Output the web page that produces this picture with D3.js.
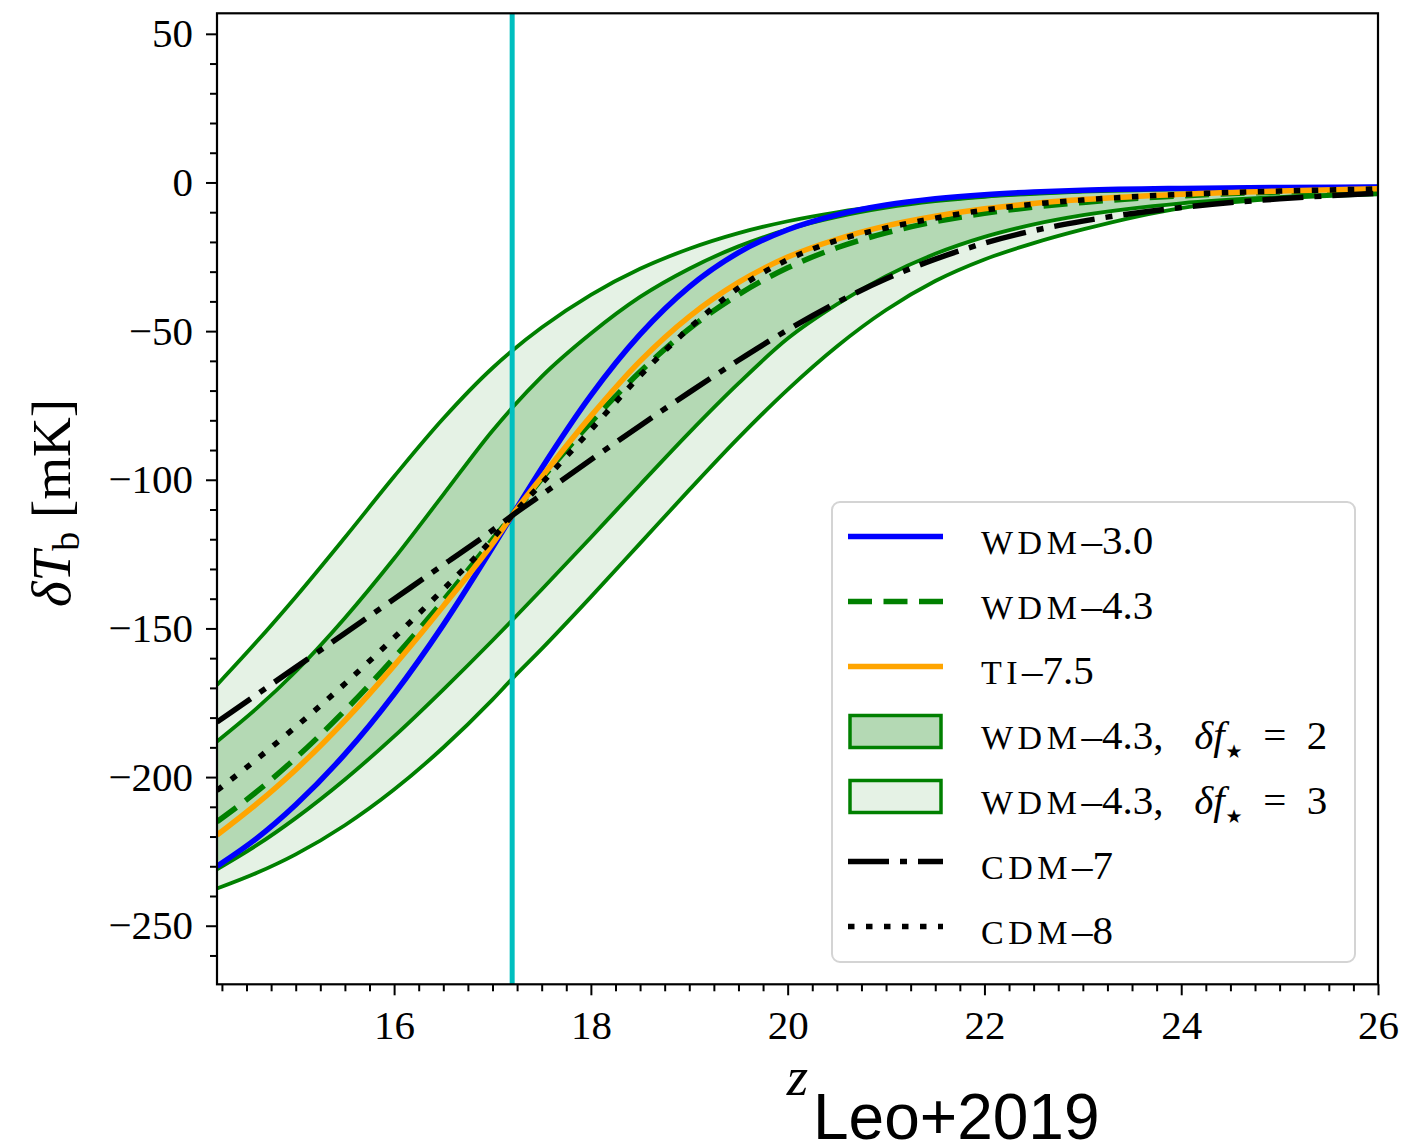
<!DOCTYPE html>
<html lang="en">
  <head>
    <meta charset="utf-8">
    <title>dTb vs z</title>
    <script src="https://cdn.jsdelivr.net/npm/d3@7"></script>
    <style>
      body { margin: 0; background: #fff; }
    </style>
  </head>

  <body>
    <svg id="chart" width="1427" height="1145" font-family="Liberation Serif, DejaVu Serif, serif"></svg>
    <script type="text/javascript">

      // redshift grid shared by every curve
      var zGrid = [14.2, 14.6, 15, 15.5, 16, 16.5, 17, 17.2, 17.5, 18, 18.5, 19, 19.5, 20, 20.5, 21, 21.5, 22, 22.5, 23, 24, 25, 26];

      // series values (mK)
      var wdm30 = [-230, -220.7, -209.3, -192.3, -172.1, -148.8, -122.8, -112, -96.1, -71.6, -51.1, -35.1, -23.6, -15.9, -10.9, -7.6, -5.5, -4.1, -3.2, -2.6, -2.0, -1.7, -1.5];
      var wdm43 = [-215, -205, -193.6, -177.6, -159.9, -140.6, -120.1, -112, -99.7, -80.7, -63.7, -49.2, -37.7, -28.7, -21.95, -16.95, -13.2, -10.4, -8.3, -6.7, -4.5, -3.2, -2.5];
      var ti75  = [-219.5, -209.1, -197.5, -181, -162.5, -142.5, -121.5, -112, -99.1, -78.6, -60.1, -45.1, -33.6, -25.1, -19.1, -14.6, -11.35, -8.85, -7.05, -5.75, -3.95, -2.85, -2.15];
      var cdm7  = [-181.5, -172.3, -163.1, -151.6, -140.1, -128.6, -117, -112, -105, -93.3, -81.8, -70.6, -59.8, -49.6, -40.4, -32.4, -25.8, -20.4, -16.2, -13, -8.4, -5.5, -3.6];
      var cdm8  = [-204.5, -194.1, -183.1, -168.6, -153.1, -136.85, -119.85, -112, -101.2, -83.2, -65, -49, -35.5, -26, -19.5, -15.3, -12, -9.3, -7.3, -5.9, -4, -2.9, -2.2];

      // WDM-4.3 bands: delta f_star = 2 and 3
      var band2Upper = [-188, -177, -164.5, -146.5, -126.5, -105, -83.5, -75.8, -65.3, -50.8, -38.5, -29, -21.5, -15.8, -11.6, -8.5, -6.3, -4.8, -3.8, -3.1, -2.3, -1.9, -1.7];
      var band2Lower = [-231, -223, -213.8, -200.8, -186.3, -170.55, -154.05, -147.25, -136.9, -119.4, -101.65, -84.15, -67.6, -52.5, -41, -31.5, -24, -18.3, -14.1, -11, -7, -4.9, -3.6];
      var band3Upper = [-169, -154.6, -139.4, -119.4, -98.9, -79.4, -62.4, -56.6, -48.8, -37.8, -29.05, -22.3, -17.05, -13.05, -10.05, -7.75, -6, -4.65, -3.65, -2.9, -2.0, -1.6, -1.4];
      var band3Lower = [-237.5, -232.3, -226, -216.2, -204.2, -190.05, -173.95, -166.95, -156.9, -139.4, -121.4, -103.4, -85.9, -69.65, -55.15, -42.9, -33.15, -25.9, -20.4, -15.8, -8.6, -5.4, -4];

      var zMark = 17.2;

      var xMajor = [16, 18, 20, 22, 24, 26];
      var yMajor = [50, 0, -50, -100, -150, -200, -250];

      var legendLabels = [
        ["WDM", "\u20133.0"],
        ["WDM", "\u20134.3"],
        ["TI", "\u20137.5"],
        ["WDM", "\u20134.3,\u2002 ", "2"],
        ["WDM", "\u20134.3,\u2002 ", "3"],
        ["CDM", "\u20137"],
        ["CDM", "\u20138"]
      ];

      var svg = d3.select("#chart");

      var pLeft = 217, pRight = 1378, pTop = 13.3, pBottom = 984.3;

      var x = d3.scaleLinear().domain([14.2, 26]).range([pLeft, pRight]);
      var y = d3.scaleLinear().domain([-269.7, 56.9]).range([pBottom, pTop]);

      svg.append("defs").append("clipPath").attr("id", "plotclip")
        .append("rect")
          .attr("x", pLeft).attr("y", pTop)
          .attr("width", pRight - pLeft).attr("height", pBottom - pTop);

      var plot = svg.append("g").attr("clip-path", "url(#plotclip)");

      function pts(vals) {
        return zGrid.map(function(z, i){ return [z, vals[i]]; });
      }

      var line = d3.line()
        .x(function(d){ return x(d[0]); })
        .y(function(d){ return y(d[1]); })
        .curve(d3.curveMonotoneX);

      var area = d3.area()
        .x(function(d, i){ return x(zGrid[i]); })
        .y0(function(d){ return y(d[0]); })
        .y1(function(d){ return y(d[1]); })
        .curve(d3.curveMonotoneX);

      function bandData(lo, hi) {
        return lo.map(function(v, i){ return [v, hi[i]]; });
      }

      // bands
      plot.append("path").datum(bandData(band3Lower, band3Upper))
        .attr("d", area).attr("fill", "#e5f2e5");
      plot.append("path").datum(bandData(band2Lower, band2Upper))
        .attr("d", area).attr("fill", "#b4d9b4");

      [band3Upper, band3Lower, band2Upper, band2Lower].forEach(function(b){
        plot.append("path").datum(pts(b))
          .attr("d", line).attr("fill", "none")
          .attr("stroke", "green").attr("stroke-width", 3.8);
      });

      // vertical marker
      plot.append("line")
        .attr("x1", x(zMark)).attr("x2", x(zMark))
        .attr("y1", pTop).attr("y2", pBottom)
        .attr("stroke", "#00bfbf").attr("stroke-width", 5);

      var series = [
        { vals: wdm30, color: "blue",   dash: null },
        { vals: wdm43, color: "green",  dash: "24,11.5" },
        { vals: ti75,  color: "orange", dash: null },
        { vals: cdm7,  color: "black",  dash: "41,11,7,11" },
        { vals: cdm8,  color: "black",  dash: "6.5,11.5" }
      ];

      series.forEach(function(s){
        plot.append("path").datum(pts(s.vals))
          .attr("d", line).attr("fill", "none")
          .attr("stroke", s.color).attr("stroke-width", 5.5)
          .attr("stroke-dasharray", s.dash);
      });

      // axes
      var xMinor = d3.range(14.25, 26.001, 0.25).filter(function(v){ return Math.abs(v / 2 - Math.round(v / 2)) > 1e-6; });
      var yMinor = d3.range(-260, 51, 10).filter(function(v){ return v % 50 !== 0; });

      var gx = svg.append("g").attr("transform", "translate(0," + pBottom + ")");
      gx.call(d3.axisBottom(x).tickValues(xMinor).tickSize(7).tickSizeOuter(0).tickFormat(""));
      var gxMaj = svg.append("g").attr("transform", "translate(0," + pBottom + ")");
      gxMaj.call(d3.axisBottom(x).tickValues(xMajor).tickSize(11).tickSizeOuter(0).tickPadding(15).tickFormat(d3.format("d")));

      var gy = svg.append("g").attr("transform", "translate(" + pLeft + ",0)");
      gy.call(d3.axisLeft(y).tickValues(yMinor).tickSize(7).tickSizeOuter(0).tickFormat(""));
      var gyMaj = svg.append("g").attr("transform", "translate(" + pLeft + ",0)");
      gyMaj.call(d3.axisLeft(y).tickValues(yMajor).tickSize(11).tickSizeOuter(0).tickPadding(13).tickFormat(d3.format("d")));

      svg.selectAll(".domain").remove();
      svg.selectAll(".tick line").attr("stroke", "black").attr("stroke-width", 2);
      svg.selectAll(".tick text")
        .style("font-family", "Liberation Serif, DejaVu Serif, serif")
        .style("font-size", "41px").attr("fill", "black");

      // frame
      svg.append("rect")
        .attr("x", pLeft).attr("y", pTop)
        .attr("width", pRight - pLeft).attr("height", pBottom - pTop)
        .attr("fill", "none").attr("stroke", "black").attr("stroke-width", 2.2);

      // axis labels
      var ylab = svg.append("text")
        .attr("transform", "translate(70,503) rotate(-90)")
        .attr("text-anchor", "middle").attr("font-size", 55);
      ylab.append("tspan").attr("font-style", "italic").text("\u03b4T");
      ylab.append("tspan").attr("font-size", 38).attr("dy", 9).text("b");
      ylab.append("tspan").attr("dy", -9).text(" [mK]");

      svg.append("text")
        .attr("x", (pLeft + pRight) / 2).attr("y", 1095)
        .attr("text-anchor", "middle").attr("font-size", 55)
        .attr("font-style", "italic").text("z");

      svg.append("text")
        .attr("x", 813).attr("y", 1139)
        .style("font-family", "'Liberation Sans', Arial, sans-serif")
        .attr("font-size", 64).attr("fill", "black")
        .text("Leo+2019");

      // legend
      var lg = svg.append("g");
      lg.append("rect")
        .attr("x", 832).attr("y", 502).attr("width", 523).attr("height", 460)
        .attr("rx", 8).attr("fill", "white").attr("fill-opacity", 0.85)
        .attr("stroke", "#d4d4d4").attr("stroke-width", 2);

      var rowY = d3.range(7).map(function(i){ return 536.5 + i * 65; });
      var hx0 = 848, hx1 = 943;

      var handles = [
        { type: "line", color: "blue", dash: null },
        { type: "line", color: "green", dash: "24,11.5" },
        { type: "line", color: "orange", dash: null },
        { type: "patch", fill: "#b4d9b4" },
        { type: "patch", fill: "#e5f2e5" },
        { type: "line", color: "black", dash: "41,11,7,11" },
        { type: "line", color: "black", dash: "6.5,11.5" }
      ];

      handles.forEach(function(h, i){
        var cy = rowY[i];
        if (h.type === "line") {
          lg.append("line")
            .attr("x1", hx0).attr("x2", hx1).attr("y1", cy).attr("y2", cy)
            .attr("stroke", h.color).attr("stroke-width", 5.5)
            .attr("stroke-dasharray", h.dash);
        } else {
          lg.append("rect")
            .attr("x", hx0 + 2).attr("y", cy - 16).attr("width", hx1 - hx0 - 4).attr("height", 32)
            .attr("fill", h.fill).attr("stroke", "green").attr("stroke-width", 3.5);
        }

        var lab = legendLabels[i];
        var t = lg.append("text").attr("x", 981).attr("y", cy + 17).attr("font-size", 41);
        t.append("tspan").attr("font-size", 34).attr("letter-spacing", 4.5).text(lab[0]);
        t.append("tspan").style("white-space", "pre").text(lab[1]);
        if (lab.length > 2) {
          t.append("tspan").attr("font-style", "italic").text("\u03b4f");
          t.append("tspan").attr("font-size", 19)
            .style("font-family", "'DejaVu Sans', sans-serif")
            .attr("dx", 1).attr("dy", 9).text("\u2605");
          t.append("tspan").attr("dy", -9).style("white-space", "pre").text("\u2002=\u2002" + lab[2]);
        }
      });

    </script>
  </body>
</html>
